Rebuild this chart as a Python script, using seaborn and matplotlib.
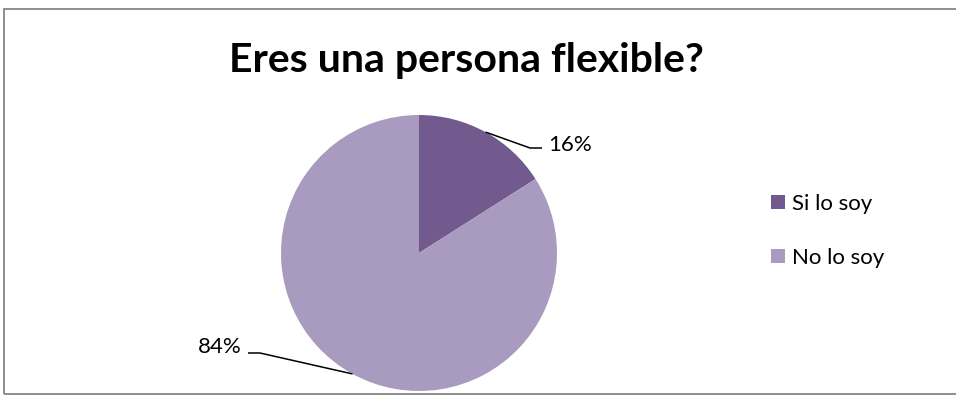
import matplotlib
matplotlib.use("Agg")
import matplotlib.pyplot as plt
from matplotlib.patches import Rectangle
import numpy as np
import seaborn as sns

# Chart data
title = "Eres una persona flexible?"
categories = ["Si lo soy", "No lo soy"]
shares = [16, 84]
colors = ["#725a8f", "#a99bc0"]

sns.set_theme(style="white")
plt.rcParams["font.family"] = ["Lato", "DejaVu Sans"]

W, H = 956, 396
fig = plt.figure(figsize=(W / 100, H / 100), dpi=100)
fig.patch.set_facecolor("white")


def fx(px):
    return px / W


def fy(py):
    return 1 - py / H


# outer frame (right side runs past the canvas edge)
fig.patches.append(Rectangle((fx(4), fy(393.5)), fx(970) - fx(4), fy(9) - fy(393.5),
                             transform=fig.transFigure, fill=False,
                             edgecolor="#868686", linewidth=1.3, figure=fig))

# pie axes: centre (419, 253), radius 138 px
cx, cy, r = 419, 253, 138
ax = fig.add_axes([fx(cx - r), fy(cy + r), 2 * r / W, 2 * r / H])
ax.set_axis_off()
wedges, _ = ax.pie(shares, colors=colors, startangle=90, counterclock=False,
                   radius=1, wedgeprops=dict(linewidth=0))
ax.set_xlim(-1, 1)
ax.set_ylim(-1, 1)
for w in wedges:
    w.set_clip_on(False)


def px2d(px, py):
    return (px - cx) / r, (cy - py) / r


# leader lines (knee and end in pixels) and percentage labels
label_specs = [
    # (knee, end, text anchor, ha)
    ((530, 148), (542, 148), (548, 151), "left"),
    ((260, 353), (248, 353), (242, 353), "right"),
]
total = sum(shares)
acc = 0
for val, (knee, end, anchor, ha) in zip(shares, label_specs):
    mid = 90 - (acc + val / 2) / total * 360
    acc += val
    sx, sy = np.cos(np.radians(mid)), np.sin(np.radians(mid))
    kx, ky = px2d(*knee)
    ex, ey = px2d(*end)
    ax.plot([sx, kx, ex], [sy, ky, ey], color="black", linewidth=1.1,
            clip_on=False, solid_capstyle="butt")
    fig.text(fx(anchor[0]), fy(anchor[1]), f"{val}%", ha=ha, va="baseline",
             fontsize=16, color="black")

# title
fig.text(fx(466), fy(72), title, ha="center", va="baseline",
         fontsize=29.5, fontweight="bold", color="black")

# legend
leg_base = [210, 264]
for lab, col, y in zip(categories, colors, leg_base):
    fig.patches.append(Rectangle((fx(771), fy(y - 1)), 14 / W, 14 / H,
                                 transform=fig.transFigure, facecolor=col,
                                 edgecolor="none", figure=fig))
    fig.text(fx(792), fy(y), lab, ha="left", va="baseline", fontsize=16, color="black")

fig.savefig("out.png", dpi=100)
